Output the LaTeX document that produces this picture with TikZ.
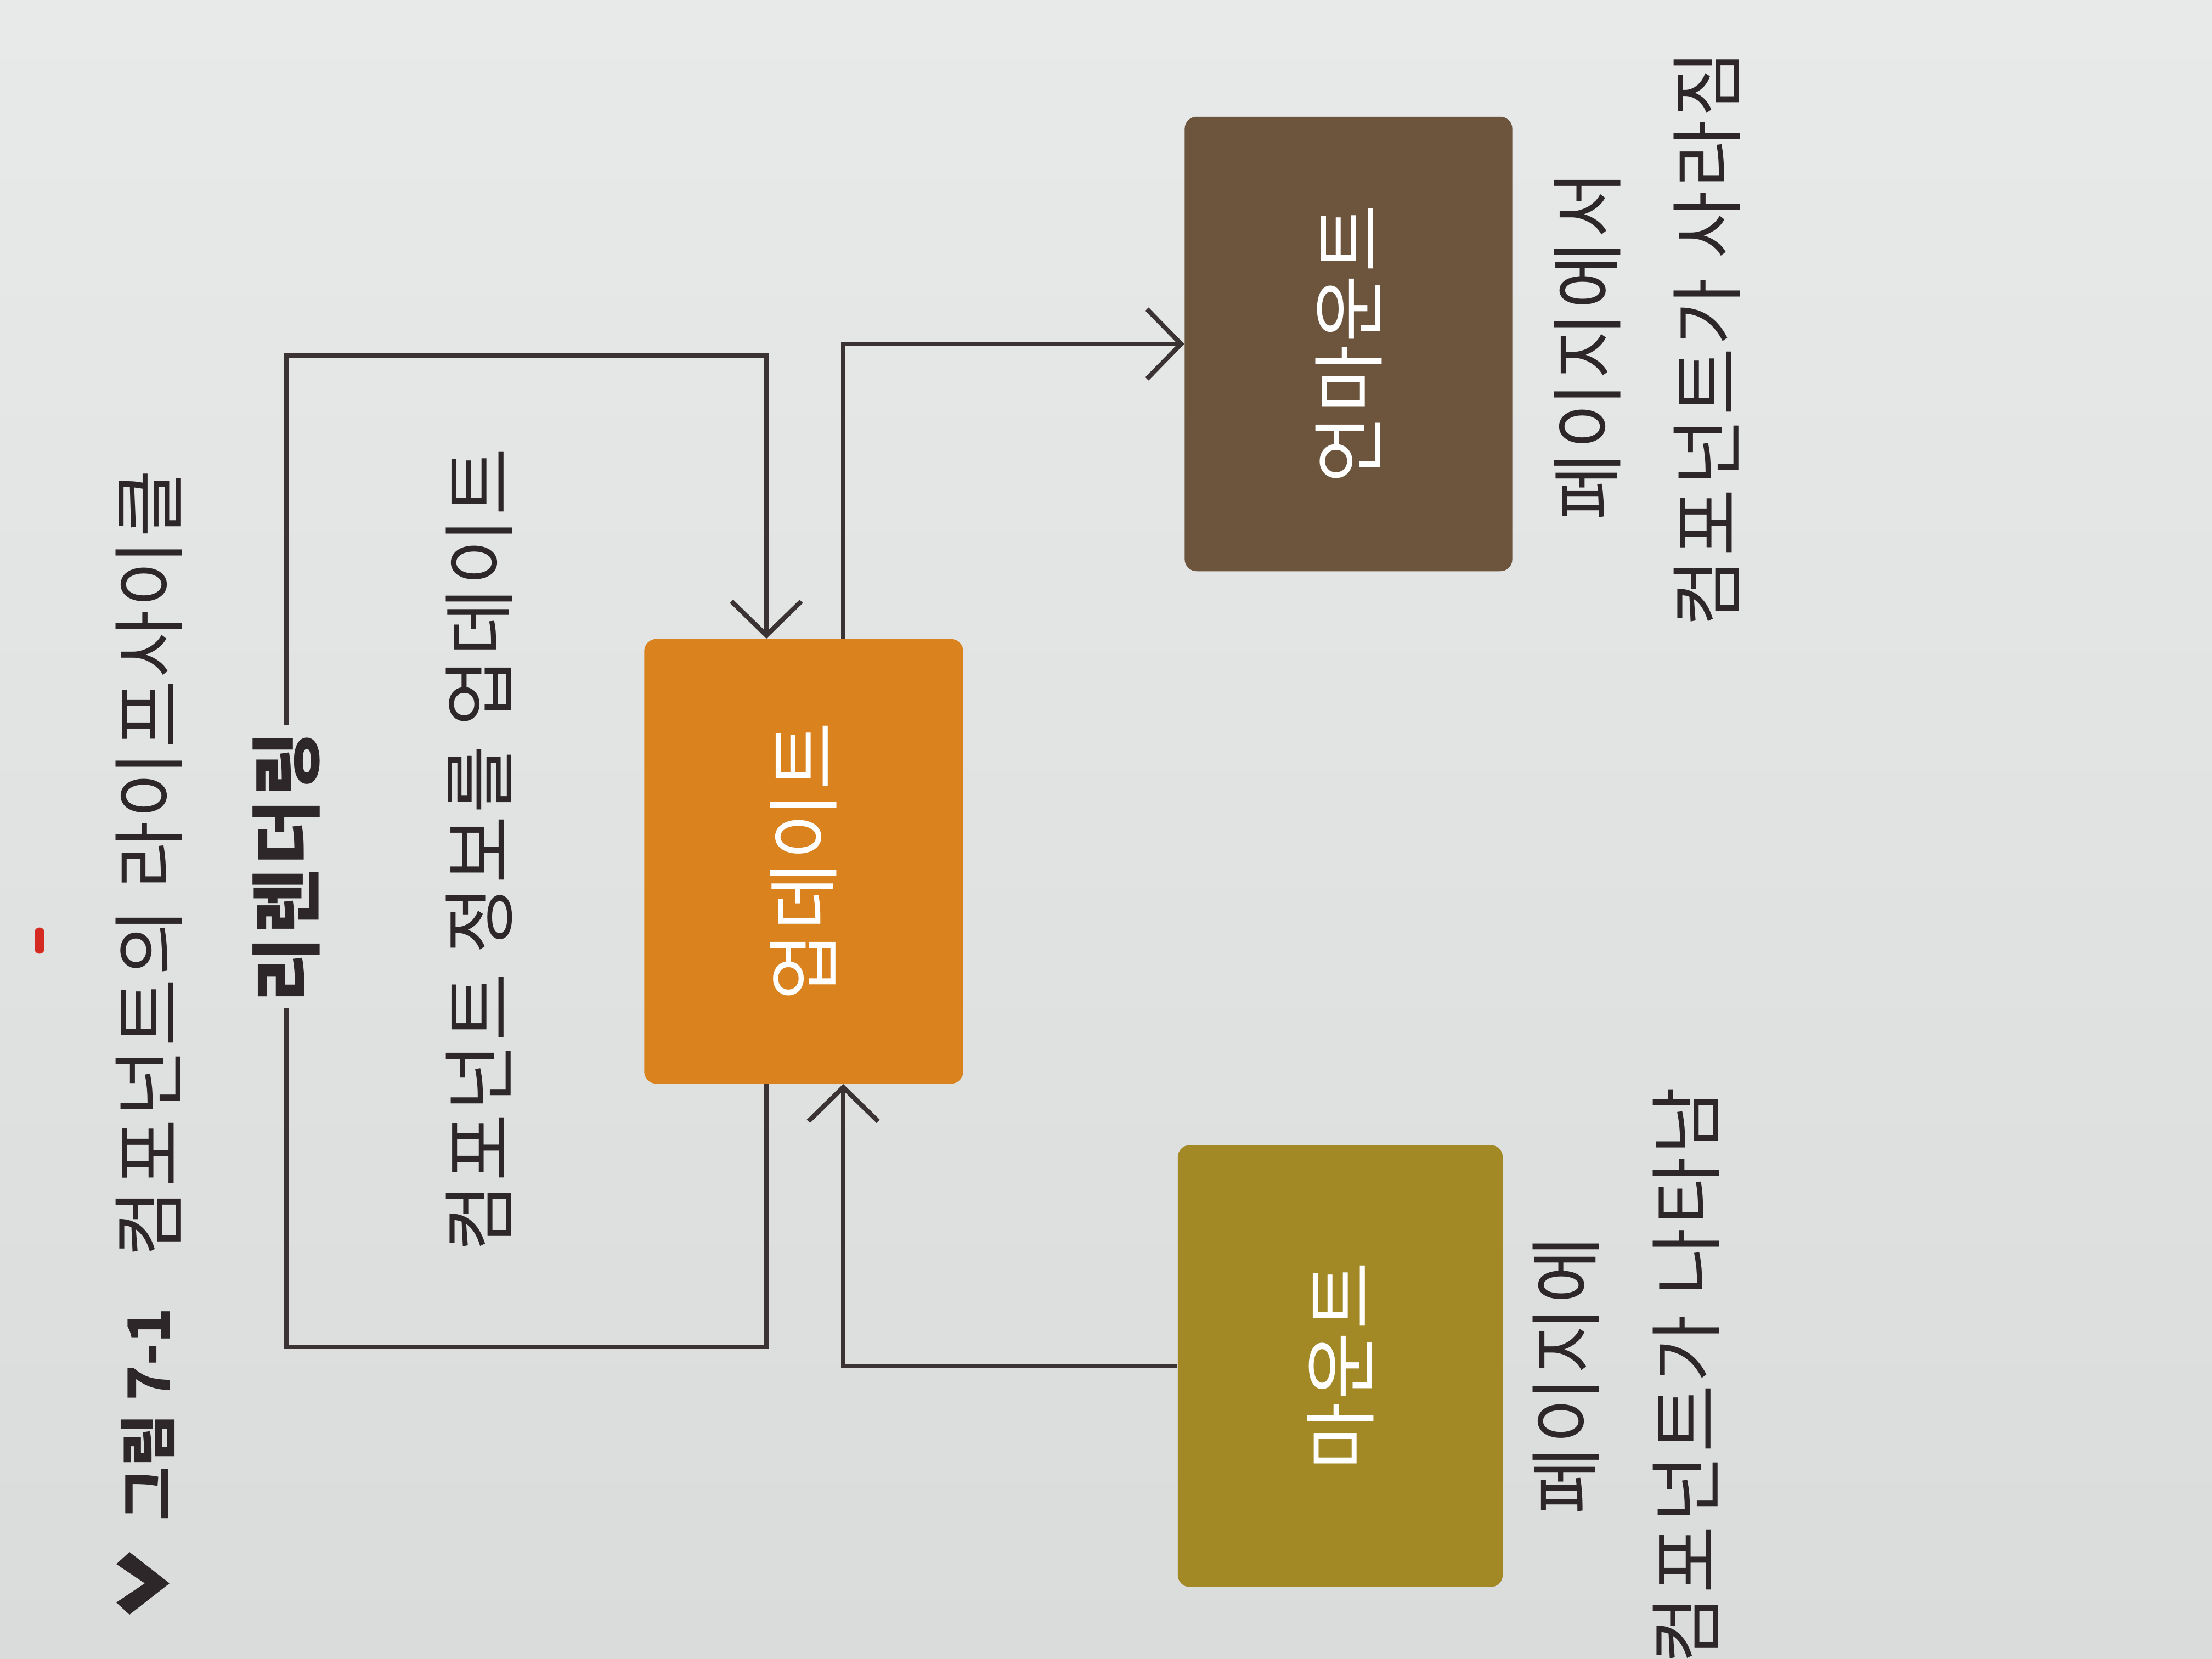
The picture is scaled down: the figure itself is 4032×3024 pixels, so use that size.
\documentclass[tikz,border=0pt]{standalone}
\usepackage{fontspec}
\setmainfont{Noto Sans CJK KR}[LetterSpace=4]
\newfontfamily\tightfont{Noto Sans CJK KR}
\usetikzlibrary{arrows.meta}
\definecolor{paperlight}{HTML}{E8EAE9}
\definecolor{paperdark}{HTML}{DADCDB}
\definecolor{ink}{HTML}{2E2729}
\definecolor{linec}{HTML}{3A3233}
\definecolor{updc}{HTML}{D9821E}
\definecolor{mntc}{HTML}{A28926}
\definecolor{unmc}{HTML}{6C543D}
\definecolor{redmark}{HTML}{D42A22}
\begin{document}
\begin{tikzpicture}[x=0.01cm,y=-0.01cm,
  lbl/.style={rotate=90, font=\fontsize{38}{42}\selectfont, text=ink, inner sep=0pt},
  stage/.style={rounded corners=0.22cm, inner sep=0pt, text=white,
    font=\fontsize{38}{42}\selectfont},
  conn/.style={draw=linec, line width=0.085cm},
  tipped/.style={-{Straight Barb[length=0.62cm,width=1.27cm]}}]
\path[use as bounding box] (0,0) rectangle (4032,3024);
\clip (0,0) rectangle (4032,3024);
\shade[top color=paperlight, bottom color=paperdark] (0,0) rectangle (4032,3024);

% red mark on the page
\draw[redmark, line width=0.17cm, line cap=round] (72,1699) -- (72,1730);

% title
\fill[ink] (236,2829) -- (309,2886) -- (236,2943) -- (212,2921) -- (264,2886) -- (212,2851) -- cycle;
\node[lbl, font=\tightfont\fontsize{30}{34}\selectfont\bfseries] (t1) at (270,2578) {그림 7-1};
\node[lbl] (t2) at (272,1574) {컴포넌트의 라이프사이클};

% stages
\node[stage, fill=updc, minimum width=5.81cm, minimum height=8.10cm] (upd) at (1465,1570) {\rotatebox{90}{업데이트}};
\node[stage, fill=mntc, minimum width=5.92cm, minimum height=8.05cm] (mnt) at (2443,2490) {\rotatebox{90}{마운트}};
\node[stage, fill=unmc, minimum width=5.97cm, minimum height=8.28cm] (unm) at (2458,627) {\rotatebox{90}{언마운트}};

% labels
\node[lbl, font=\fontsize{37}{42}\selectfont\bfseries, inner sep=0.1cm] (rr) at (522,1580) {리렌더링};
\node[lbl] (info) at (874,1549) {컴포넌트 정보를 업데이트};
\node[lbl] (unm1) at (2893,630) {페이지에서};
\node[lbl] (unm2) at (3111,617) {컴포넌트가 사라짐};
\node[lbl] (mnt1) at (2854,2507) {페이지에};
\node[lbl] (mnt2) at (3073,2507) {컴포넌트가 나타남};

% connectors
\draw[conn] ([xshift=-0.68cm]upd.south) |- (522,2455) -- (rr.west);
\draw[conn, tipped] (rr.east) -- (522,648) -| ([xshift=-0.68cm]upd.north);
\draw[conn, tipped] (mnt.west) -| ([xshift=0.72cm]upd.south);
\draw[conn, tipped] ([xshift=0.72cm]upd.north) |- (unm.west);
\end{tikzpicture}
\end{document}
